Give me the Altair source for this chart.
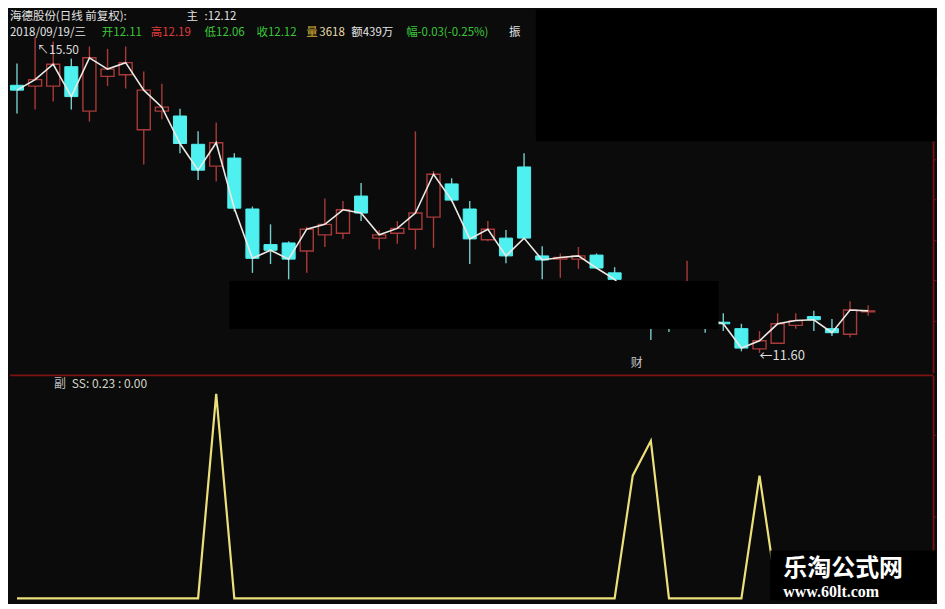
import altair as alt
import pandas as pd

# ---------------- data ----------------
opens  = [14.91, 14.90, 14.90, 15.14, 14.59, 15.02, 15.04, 14.36, 14.59, 14.53,
          14.18, 13.91, 14.01, 13.38, 12.94, 12.96, 12.86, 13.06, 13.08, 13.54,
          13.02, 13.08, 13.13, 13.28, 13.69, 13.38, 13.00, 13.02, 13.90, 12.80,
          12.76, 12.76, 12.81, 12.59, 12.43, 12.22, 12.06, 12.02, 12.12, 11.98,
          11.90, 11.65, 11.72, 11.94, 12.05, 11.90, 11.83, 12.11]
highs  = [15.18, 15.50, 15.45, 15.24, 15.39, 15.36, 15.39, 15.08, 14.93, 14.62,
          14.34, 14.45, 14.07, 13.41, 13.19, 12.98, 13.16, 13.51, 13.48, 13.70,
          13.12, 13.23, 14.34, 13.85, 13.76, 13.48, 13.23, 13.12, 14.07, 12.92,
          12.83, 12.91, 12.83, 12.66, 12.47, 12.27, 12.12, 12.74, 12.18, 12.09,
          11.96, 11.87, 12.09, 12.09, 12.12, 12.02, 12.24, 12.19]
lows   = [14.56, 14.61, 14.71, 14.61, 14.46, 14.90, 14.87, 13.93, 14.49, 14.07,
          13.74, 13.72, 13.35, 12.59, 12.70, 12.51, 12.59, 12.91, 13.01, 13.23,
          12.88, 12.95, 12.88, 12.90, 13.47, 12.70, 12.98, 12.71, 13.01, 12.51,
          12.53, 12.64, 12.64, 12.50, 12.18, 11.76, 11.86, 11.97, 11.85, 11.87,
          11.62, 11.60, 11.71, 11.90, 11.87, 11.81, 11.79, 12.06]
closes = [14.85, 14.98, 15.17, 14.77, 15.25, 15.11, 15.19, 14.85, 14.64, 14.19,
          13.86, 14.20, 13.39, 12.77, 12.87, 12.76, 13.13, 13.19, 13.37, 13.33,
          13.06, 13.14, 13.33, 13.81, 13.49, 13.01, 13.13, 12.80, 13.02, 12.75,
          12.78, 12.80, 12.65, 12.51, 12.24, 12.06, 12.00, 12.24, 12.02, 11.96,
          11.66, 11.75, 11.96, 12.00, 12.01, 11.85, 12.13, 12.12]
ss_values = [0, 0, 0, 0, 0, 0, 0, 0, 0, 0,
             0, 1.00, 0, 0, 0, 0, 0, 0, 0, 0,
             0, 0, 0, 0, 0, 0, 0, 0, 0, 0,
             0, 0, 0, 0, 0.60, 0.77, 0, 0, 0, 0,
             0, 0.60, 0, 0, 0, 0, 0, 0]

header_line1 = ["海德股份(日线 前复权):", "主", ":12.12"]
header_line2 = ["2018/09/19/三", "开12.11", "高12.19", "低12.06", "收12.12",
                "量", "3618", "额439万", "幅-0.03(-0.25%)", "振"]
sub_labels = ["副", "SS: 0.23 : 0.00"]
marker_label = "财"
watermark = ["乐淘公式网", "www.60lt.com"]

# ---------------- layout / style ----------------
BG = "#0b0b0b"
RED = "#a83a3a"
CYAN = "#4ef0f0"
CYAN_WICK = "#78cccc"
FRAME = "#7a1414"
WHITE = "#e4e4e4"
GREEN = "#3cc83c"
YELLOW = "#ece07a"
FONT = "Noto Sans CJK SC"

W, H1, H2 = 925, 364, 226
X_DOMAIN = [-0.386, 50.58]
P_DOMAIN = [11.3534, 15.8456]
S_DOMAIN = [-0.0098, 1.0927]

line1_x = [0, 177, 195]
line1_col = [WHITE, WHITE, WHITE]
line2_x = [0, 92, 141, 195, 247, 297, 310, 342, 397, 500]
line2_col = [WHITE, GREEN, "#e03c3c", GREEN, GREEN, "#d0a838", "#e8dcaa",
             WHITE, GREEN, WHITE]

# ---------------- frames ----------------
n = len(closes)
df = pd.DataFrame({"idx": list(range(n)), "open": opens, "high": highs,
                   "low": lows, "close": closes, "ss": ss_values})
df["body_lo"] = df[["open", "close"]].min(axis=1)
df["body_hi"] = df[["open", "close"]].max(axis=1)
df["x_lo"] = df["idx"] - 0.36
df["x_hi"] = df["idx"] + 0.36
up = df[df["close"] >= df["open"]]
dn = df[df["close"] < df["open"]]

xs = alt.Scale(domain=X_DOMAIN, nice=False, zero=False)
ps = alt.Scale(domain=P_DOMAIN, nice=False, zero=False)
sscale = alt.Scale(domain=S_DOMAIN, nice=False, zero=False)
p_axis = alt.Axis(orient="right", labels=False, title=None, grid=False,
                  domainColor=FRAME, domainWidth=1.8, tickColor=FRAME,
                  tickSize=3, values=[12, 12.5, 13, 13.5, 14, 14.5, 15, 15.5])
s_axis = alt.Axis(orient="right", labels=False, title=None, grid=False,
                  domainColor=FRAME, domainWidth=1.8, tickColor=FRAME,
                  tickSize=3, values=[0.4, 0.8])


def X(f):
    return alt.X(f"{f}:Q", scale=xs, axis=None)


def PY(f):
    return alt.Y(f"{f}:Q", scale=ps, axis=p_axis)


def one():
    return pd.DataFrame({"k": [0]})


def text_layer(txt, x, y, color, size=11.5, font=FONT, weight="normal"):
    return alt.Chart(one()).mark_text(
        text=txt, align="left", baseline="middle", font=font,
        fontSize=size, fontWeight=weight, color=color
    ).encode(x=alt.value(x), y=alt.value(y))


# ---------------- upper panel ----------------
wick_dn = alt.Chart(dn).mark_rule(color=CYAN_WICK, strokeWidth=1.4).encode(
    x=X("idx"), y=PY("low"), y2="high:Q")
wick_up = alt.Chart(up).mark_rule(color=RED, strokeWidth=1.4).encode(
    x=X("idx"), y=PY("low"), y2="high:Q")
body_dn = alt.Chart(dn).mark_rect(fill=CYAN, stroke=CYAN, strokeWidth=1).encode(
    x=X("x_lo"), x2="x_hi:Q", y=PY("body_lo"), y2="body_hi:Q")
body_up = alt.Chart(up).mark_rect(fill=BG, stroke=RED, strokeWidth=1.4).encode(
    x=X("x_lo"), x2="x_hi:Q", y=PY("body_lo"), y2="body_hi:Q")
close_line = alt.Chart(df).mark_line(color="#ece8e4", strokeWidth=1.6).encode(
    x=X("idx"), y=PY("close"))

mask_top = alt.Chart(one()).mark_rect(color="#000000").encode(
    x=alt.value(527), x2=alt.value(W + 3), y=alt.value(0), y2=alt.value(132))
mask_mid = alt.Chart(one()).mark_rect(color="#000000").encode(
    x=alt.value(220), x2=alt.value(710), y=alt.value(272), y2=alt.value(320))

hi_row = df.loc[[df["high"].idxmax()]].copy()
hi_row["lbl"] = "↖" + hi_row["high"].map(lambda v: f"{v:.2f}")
lo_row = df.loc[[df["low"].idxmin()]].copy()
lo_row["lbl"] = "←" + lo_row["low"].map(lambda v: f"{v:.2f}")
hi_text = alt.Chart(hi_row).mark_text(
    align="left", baseline="middle", dx=2, dy=12, font=FONT, fontSize=12,
    color="#dcdcdc").encode(x=X("idx"), y=PY("high"), text="lbl:N")
lo_text = alt.Chart(lo_row).mark_text(
    align="left", baseline="middle", dx=0, dy=3, font=FONT, fontSize=13,
    color="#dcdcdc").encode(x=X("idx"), y=PY("low"), text="lbl:N")

upper_layers = [wick_dn, wick_up, body_dn, body_up, close_line]
for t, x, c in zip(header_line1, line1_x, line1_col):
    upper_layers.append(text_layer(t, x, 7, c))
for t, x, c in zip(header_line2, line2_x, line2_col):
    upper_layers.append(text_layer(t, x, 23, c))
upper_layers += [mask_top, mask_mid, hi_text, lo_text,
                 text_layer(marker_label, 622, 354, "#c4c4c4", size=12)]

upper = alt.layer(*upper_layers).properties(width=W, height=H1)

# ---------------- lower panel ----------------
ss_line = alt.Chart(df).mark_line(color=YELLOW, strokeWidth=2.2).encode(
    x=X("idx"), y=alt.Y("ss:Q", scale=sscale, axis=s_axis))
divider = alt.Chart(one()).mark_rule(color=FRAME, strokeWidth=1.8).encode(
    y=alt.value(0.5))
wm_mask = alt.Chart(one()).mark_rect(color="#000000").encode(
    x=alt.value(762), x2=alt.value(W + 3), y=alt.value(176), y2=alt.value(H2))

lower = alt.layer(
    ss_line, divider,
    text_layer(sub_labels[0], 44, 9, "#bdbdbd", size=12),
    text_layer(sub_labels[1], 62, 9, "#d6d6c6", size=12),
    wm_mask,
    text_layer(watermark[0], 775, 195, "#ffffff", size=24, weight="bold"),
    text_layer(watermark[1], 775, 218, "#ffffff", size=16,
               font="Liberation Serif", weight="bold"),
).properties(width=W, height=H2)

chart = alt.vconcat(upper, lower, spacing=0, padding=0, background=BG
                    ).configure_view(stroke="transparent")

chart.save("out.html", embed_options={"renderer": "svg", "actions": False})
